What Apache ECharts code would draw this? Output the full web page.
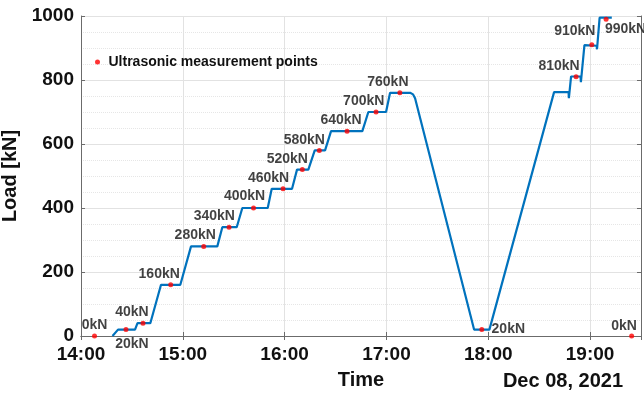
<!DOCTYPE html>
<html>
<head>
<meta charset="utf-8">
<script src="https://cdn.jsdelivr.net/npm/echarts@6/dist/echarts.min.js"></script>
<style>
  html, body { margin: 0; padding: 0; background: #fff; }
  #chart { width: 644px; height: 397px; }
</style>
</head>
<body>
<div id="chart"></div>
<script>
// Applied load over the test day (clock time, load in kN)
const loadTimes = [
  '14:18:34', '14:21:49', '14:31:50', '14:33:18', '14:40:51', '14:47:09',
  '14:58:32', '15:04:50', '15:20:20', '15:23:17', '15:31:46', '15:35:04',
  '15:50:02', '15:52:24', '16:04:22', '16:07:18', '16:13:58', '16:17:44',
  '16:23:49', '16:27:21', '16:45:48', '16:49:20', '16:59:46', '17:02:08',
  '17:13:55', '17:15:41', '17:16:52', '17:51:38', '18:00:40', '18:38:47',
  '18:47:19', '18:47:30', '18:48:48', '18:54:24', '18:54:35', '18:56:40',
  '19:03:54', '19:04:05', '19:05:37', '19:12:48'
];
const loadValues = [
  0, 20, 20, 40, 40, 160,
  160, 280, 280, 340, 340, 400,
  400, 460, 460, 520, 520, 580,
  580, 640, 640, 700, 700, 760,
  760, 755, 743, 20, 20, 762,
  762, 743, 811, 811, 793, 909,
  907, 896, 995, 995
];

// Ultrasonic measurement points
const pointTimes = [
  '14:07:58', '14:26:31', '14:36:32', '14:52:52', '15:12:19', '15:27:14',
  '15:41:40', '15:59:04', '16:10:26', '16:20:27', '16:36:47', '16:53:52',
  '17:07:54', '17:56:11', '18:51:45', '19:01:00', '19:09:26', '19:24:29'
];
const pointLoads = [
  0, 20, 40, 160, 280, 340,
  400, 460, 520, 580, 640, 700,
  760, 20, 810, 910, 990, 0
];

// Axis settings
const dayLabel = 'Dec 08, 2021';
const xStart = '14:00:00';
const xEnd = '19:30:00';

// Where each point's value label sits, relative to its marker (px)
const labelOffsets = [
  [0, -11], [6, 14.5], [-11, -11], [-11.5, -11], [-8.5, -11.5], [-14.7, -10.7],
  [-9, -12], [-14.5, -10.5], [-15, -10], [-15, -10.7], [-6, -11], [-12.3, -10.6],
  [-12, -10.7], [26.5, 0], [-17, -10.6], [-17, -14], [19.5, 10], [-7.5, -10.3]
];

const FONT = "'Liberation Sans', Arial, Helvetica, sans-serif";
const TEXT = '#111111';
const AXIS = '#6b6b6b';

function toMinutes(s) {
  const p = s.split(':').map(Number);
  return p[0] * 60 + p[1] + (p[2] || 0) / 60;
}
function clock(m) {
  const h = Math.floor(m / 60), mm = Math.round(m % 60);
  return String(h).padStart(2, '0') + ':' + String(mm).padStart(2, '0');
}

const lineData = loadTimes.map((t, i) => [toMinutes(t), loadValues[i]]);
const pointData = pointTimes.map((t, i) => ({
  value: [toMinutes(t), pointLoads[i]],
  label: { offset: labelOffsets[i] }
}));

const chart = echarts.init(document.getElementById('chart'), null, { renderer: 'canvas' });

const xMin = toMinutes(xStart), xMax = toMinutes(xEnd);

chart.setOption({
  animation: false,
  backgroundColor: '#ffffff',
  textStyle: { fontFamily: FONT },
  grid: { left: 81, right: 3, top: 16, bottom: 61, containLabel: false, outerBoundsMode: 'none' },
  legend: {
    data: ['Ultrasonic measurement points'],
    left: 95, top: 55, padding: 0,
    icon: 'circle', itemWidth: 12, itemHeight: 5,
    textStyle: { fontFamily: FONT, fontSize: 14, fontWeight: 'bold', color: TEXT }
  },
  xAxis: [{
    type: 'value', min: xMin, max: xMax, interval: 60,
    name: 'Time', nameLocation: 'middle', nameGap: 34,
    nameTextStyle: { fontFamily: FONT, fontSize: 20, fontWeight: 'bold', color: TEXT },
    axisLine: { show: true, lineStyle: { color: AXIS, width: 1 } },
    axisTick: { show: true, inside: true, length: 4, lineStyle: { color: AXIS } },
    axisLabel: {
      margin: 9, fontFamily: FONT, fontSize: 19, fontWeight: 'bold', color: TEXT,
      formatter: v => clock(v), showMaxLabel: false
    },
    splitLine: { show: true, lineStyle: { color: '#e2e2e2', width: 1 } }
  }, {
    type: 'value', min: xMin, max: xMax, interval: 60, position: 'top',
    axisLine: { show: true, lineStyle: { color: AXIS, width: 1 } },
    axisTick: { show: true, inside: true, length: 4, lineStyle: { color: AXIS } },
    axisLabel: { show: false },
    splitLine: { show: false }
  }],
  yAxis: [{
    type: 'value', min: 0, max: 1000, interval: 200,
    name: 'Load [kN]', nameLocation: 'middle', nameGap: 59,
    nameTextStyle: { fontFamily: FONT, fontSize: 20, fontWeight: 'bold', color: TEXT },
    axisLine: { show: true, lineStyle: { color: AXIS, width: 1 } },
    axisTick: { show: true, inside: true, length: 4, lineStyle: { color: AXIS } },
    axisLabel: {
      margin: 7, fontFamily: FONT, fontSize: 19, fontWeight: 'bold', color: TEXT,
      formatter: v => String(v)
    },
    splitLine: { show: true, lineStyle: { color: '#e2e2e2', width: 1 } },
    minorTick: { show: false, splitNumber: 4 },
    minorSplitLine: { show: true, lineStyle: { color: '#e6e6e6', width: 1, type: 'dotted' } }
  }, {
    type: 'value', min: 0, max: 1000, interval: 200, position: 'right',
    axisLine: { show: true, lineStyle: { color: AXIS, width: 1 } },
    axisTick: { show: true, inside: true, length: 4, lineStyle: { color: AXIS } },
    axisLabel: { show: false },
    splitLine: { show: false }
  }],
  graphic: [{
    type: 'text', right: 21, top: 371,
    style: { text: dayLabel, font: 'bold 20px ' + FONT, fill: TEXT }
  }],
  series: [{
    name: 'Load',
    type: 'line',
    data: lineData,
    showSymbol: false,
    symbol: 'none',
    lineStyle: { color: '#0072BD', width: 2.2 },
    z: 2
  }, {
    name: 'Ultrasonic measurement points',
    type: 'scatter',
    data: pointData,
    symbol: 'circle',
    symbolSize: 5,
    clip: false,
    itemStyle: { color: '#ff0000' },
    label: {
      show: true, position: 'inside', align: 'center', verticalAlign: 'middle',
      fontFamily: FONT, fontSize: 14, fontWeight: 'bold', color: TEXT,
      formatter: p => p.value[1] + 'kN'
    },
    z: 3
  }]
});
</script>
</body>
</html>
